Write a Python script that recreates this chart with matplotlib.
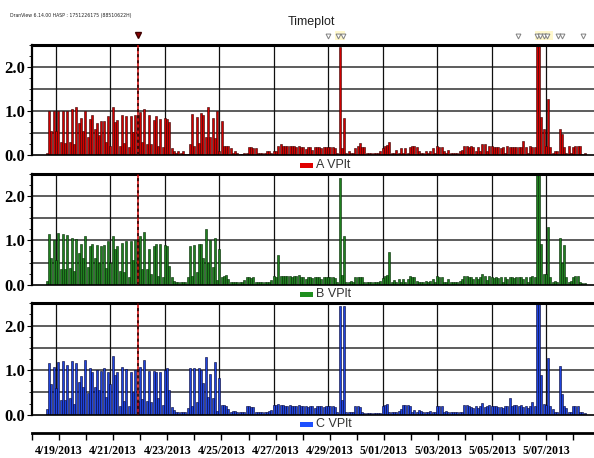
import matplotlib
matplotlib.use('Agg')
import matplotlib.pyplot as plt
import matplotlib.dates as mdates
from matplotlib.patches import Rectangle
from matplotlib.ticker import MultipleLocator, FixedLocator
import numpy as np
import pandas as pd
from datetime import datetime, timedelta

# ---------------- data ----------------
start_time = datetime(2013, 4, 18, 16, 0)
step_hours = 2

a_vplt = [
    0.05, 1.0, 0.55, 1.0, 0.55, 1.0, 0.3, 1.0, 0.28, 1.0,
    0.3, 1.05, 0.25, 1.08, 0.72, 0.85, 0.55, 1.0, 0.4, 0.82,
    0.92, 0.58, 0.72, 0.45, 0.78, 0.78, 0.3, 0.88, 0.2, 1.1,
    0.75, 0.8, 0.2, 0.9, 0.28, 0.88, 0.18, 0.88, 0.52, 0.9,
    0.92, 0.98, 0.3, 1.05, 0.25, 0.9, 0.25, 0.8, 0.88, 0.2,
    0.82, 0.18, 0.85, 0.82, 0.75, 0.15, 0.1, 0.05, 0.08, 0.05,
    0.08, 0.03, 0.02, 0.25, 0.93, 0.2, 0.86, 0.28, 0.95, 0.9,
    0.4, 1.08, 0.4, 0.85, 0.38, 1.0, 0.1, 0.78, 0.2, 0.2,
    0.2, 0.15, 0.05, 0.08, 0.05, 0.03, 0.03, 0.05, 0.05, 0.18,
    0.18, 0.17, 0.17, 0.05, 0.05, 0.05, 0.05, 0.08, 0.08, 0.05,
    0.08, 0.08, 0.2, 0.26, 0.2, 0.2, 0.2, 0.2, 0.2, 0.2,
    0.18, 0.2,
    0.18, 0.18, 0.14, 0.18, 0.18, 0.12, 0.18, 0.18, 0.18, 0.15,
    0.18, 0.18, 0.18, 0.18, 0.18, 0.15, 0.05, 2.45, 0.15, 0.85,
    0.05, 0.08, 0.05, 0.05, 0.15, 0.2, 0.27, 0.18, 0.18, 0.05,
    0.05, 0.05, 0.05, 0.05, 0.05, 0.08, 0.15, 0.2, 0.22, 0.3,
    0.05, 0.05, 0.12, 0.05, 0.15, 0.05, 0.15, 0.05, 0.18, 0.2,
    0.2, 0.18, 0.08, 0.05, 0.05, 0.08, 0.05, 0.08, 0.15, 0.05,
    0.2, 0.18, 0.18, 0.08, 0.05, 0.12, 0.05, 0.05, 0.05, 0.05,
    0.08, 0.12, 0.2, 0.2, 0.18, 0.2, 0.18, 0.1, 0.18, 0.1,
    0.25, 0.25, 0.08, 0.2, 0.2, 0.18, 0.18, 0.18, 0.15, 0.18,
    0.05, 0.2, 0.18, 0.18, 0.18, 0.18, 0.18, 0.18, 0.32, 0.18,
    0.05, 0.2, 0.18, 0.18, 2.6, 2.6, 0.87, 0.58, 0.2, 1.28,
    0.18, 0.05, 0.08, 0.08, 0.58, 0.48, 0.18, 0.05, 0.2, 0.05,
    0.18, 0.2, 0.2, 0.2, 0.03, 0.05,
]

b_vplt = [
    0.08, 1.15, 0.6, 1.0, 0.55, 1.17, 0.35, 1.15, 0.35, 1.12,
    0.38, 1.05, 0.3, 1.03, 0.72, 0.93, 0.6, 1.1, 0.4, 0.88,
    0.92, 0.6, 0.9, 0.5, 0.88, 0.9, 0.38, 0.98, 0.48, 1.1,
    0.8, 0.87, 0.3, 0.95, 0.28, 0.98, 0.18, 0.98, 0.55, 1.02,
    0.98, 1.1, 0.35, 1.2, 0.35, 0.8, 0.25, 0.88, 0.92, 0.2,
    0.92, 0.18, 0.9, 0.88, 0.42, 0.18, 0.08, 0.05, 0.05, 0.05,
    0.05, 0.05, 0.18, 0.88, 0.2, 0.9, 0.28, 0.92, 0.92, 0.6,
    1.25, 0.5, 1.0, 0.4, 1.05, 0.1, 0.8, 0.18, 0.2, 0.22,
    0.12, 0.05, 0.05, 0.05, 0.05, 0.05, 0.05, 0.1, 0.18, 0.18,
    0.15, 0.18, 0.05, 0.05, 0.05, 0.05, 0.05, 0.05, 0.05, 0.1,
    0.2, 0.18, 0.68, 0.2, 0.2, 0.2, 0.2, 0.2, 0.18, 0.2,
    0.2, 0.22,
    0.18, 0.18, 0.12, 0.18, 0.18, 0.15, 0.18, 0.18, 0.18, 0.12,
    0.18, 0.18, 0.18, 0.18, 0.18, 0.15, 0.05, 2.42, 0.22, 1.1,
    0.05, 0.05, 0.08, 0.05, 0.18, 0.18, 0.18, 0.18, 0.05, 0.05,
    0.05, 0.05, 0.05, 0.05, 0.05, 0.08, 0.15, 0.2, 0.22, 0.73,
    0.05, 0.1, 0.05, 0.12, 0.05, 0.12, 0.05, 0.12, 0.2, 0.18,
    0.18, 0.08, 0.05, 0.05, 0.05, 0.08, 0.05, 0.08, 0.12, 0.05,
    0.2, 0.18, 0.18, 0.05, 0.05, 0.12, 0.05, 0.05, 0.05, 0.05,
    0.08, 0.12, 0.2, 0.2, 0.18, 0.18, 0.12, 0.18, 0.12, 0.18,
    0.25, 0.2, 0.1, 0.2, 0.18, 0.15, 0.18, 0.15, 0.18, 0.05,
    0.18, 0.12, 0.18, 0.18, 0.15, 0.18, 0.18, 0.18, 0.12, 0.18,
    0.05, 0.18, 0.2, 0.18, 2.6, 2.6, 0.92, 0.25, 0.25, 1.3,
    0.18, 0.05, 0.08, 0.05, 1.05, 0.48, 0.9, 0.18, 0.05, 0.08,
    0.18, 0.2, 0.2, 0.05, 0.03, 0.03,
]

c_vplt = [
    0.12, 1.15, 0.68, 1.08, 0.6, 1.18, 0.33, 1.2, 0.33, 1.12,
    0.38, 1.2, 0.25, 1.16, 0.73, 0.87, 0.63, 1.22, 0.48, 1.05,
    0.95, 0.63, 1.0, 0.55, 0.98, 1.05, 0.4, 0.95, 0.7, 1.32,
    0.9, 0.95, 0.2, 1.08, 0.3, 1.03, 0.2, 0.95, 0.5, 1.0,
    0.3, 1.08, 0.35, 1.22, 0.3, 0.98, 0.28, 0.97, 0.95, 0.38,
    0.95, 0.22, 1.0, 1.05, 0.55, 0.18, 0.1, 0.05, 0.05, 0.05,
    0.05, 0.05, 0.15, 1.05, 0.2, 1.05, 0.28, 1.05, 1.0, 0.72,
    1.3, 0.4, 0.92, 0.38, 1.18, 0.08, 0.82, 0.22, 0.22, 0.2,
    0.12, 0.05, 0.08, 0.08, 0.05, 0.05, 0.05, 0.05, 0.2, 0.2,
    0.18, 0.18, 0.05, 0.05, 0.05, 0.05, 0.05, 0.05, 0.08, 0.1,
    0.22, 0.22, 0.25, 0.22, 0.22, 0.2, 0.2, 0.22, 0.2, 0.2,
    0.2, 0.22,
    0.2, 0.2, 0.2, 0.18, 0.2, 0.2, 0.15, 0.2, 0.2, 0.2,
    0.18, 0.2, 0.2, 0.2, 0.2, 0.18, 0.05, 2.45, 0.32, 2.45,
    0.05, 0.05, 0.05, 0.05, 0.2, 0.2, 0.18, 0.05, 0.03, 0.03,
    0.03, 0.03, 0.03, 0.03, 0.03, 0.03, 0.2, 0.22, 0.25, 0.05,
    0.05, 0.05, 0.05, 0.08, 0.12, 0.22, 0.22, 0.22, 0.2, 0.05,
    0.1, 0.05, 0.1, 0.08, 0.05, 0.05, 0.05, 0.08, 0.05, 0.05,
    0.2, 0.2, 0.2, 0.05, 0.08, 0.05, 0.05, 0.05, 0.05, 0.05,
    0.05, 0.05, 0.22, 0.22, 0.2, 0.18, 0.15, 0.2, 0.15, 0.2,
    0.27, 0.18, 0.2, 0.22, 0.2, 0.2, 0.2, 0.18, 0.18, 0.15,
    0.2, 0.2, 0.37, 0.2, 0.22, 0.22, 0.2, 0.22, 0.18, 0.2,
    0.15, 0.2, 0.28, 0.2, 2.6, 2.6, 0.88, 0.25, 0.22, 1.27,
    0.2, 0.12, 0.05, 0.05, 1.1, 0.47, 0.2, 0.15, 0.05, 0.05,
    0.2, 0.2, 0.2, 0.05, 0.05, 0.03,
]

series_names = ['A VPlt', 'B VPlt', 'C VPlt']
series_values = [a_vplt, b_vplt, c_vplt]
fill_colors = ['#d00000', '#1f801f', '#1f44dd']
edge_colors = ['#300000', '#002400', '#000030']
legend_colors = ['#e00000', '#1f8f1f', '#1e50ff']

event_time = datetime(2013, 4, 22, 0, 0)
alarm_times = [
    datetime(2013, 4, 29, 0, 0), datetime(2013, 4, 29, 9, 0),
    datetime(2013, 4, 29, 12, 45), datetime(2013, 5, 5, 23, 30),
    datetime(2013, 5, 6, 16, 30), datetime(2013, 5, 6, 19, 10),
    datetime(2013, 5, 6, 22, 15), datetime(2013, 5, 7, 1, 20),
    datetime(2013, 5, 7, 10, 50), datetime(2013, 5, 7, 14, 30),
    datetime(2013, 5, 8, 8, 40),
]
highlight_spans = [
    (datetime(2013, 4, 29, 6, 0), datetime(2013, 4, 29, 14, 50)),
    (datetime(2013, 5, 6, 14, 20), datetime(2013, 5, 7, 6, 10)),
]

ytick_values = [0, 1, 2]
ytick_labels = ['0.0', '1.0', '2.0']
label_dates = pd.date_range('2013-04-19', '2013-05-07', freq='2D')
day_ticks = pd.date_range('2013-04-18', '2013-05-08', freq='D')

header_text = 'DranView 6.14.00 HASP : 1751226175 (88510622H)'
title_text = 'Timeplot'

# ---------------- layout ----------------
W, H = 594, 458
fig = plt.figure(figsize=(W / 100, H / 100), dpi=100)
fig.patch.set_facecolor('white')

x_left_px, x_right_px = 32, 594
panels_px = [(45, 155), (174, 284.7), (303.3, 414.7)]
legend_y_px = [165, 294, 424]
xlim = (mdates.date2num(datetime(2013, 4, 18, 2, 50)),
        mdates.date2num(datetime(2013, 5, 8, 18, 22)))

serif = ['Liberation Serif', 'DejaVu Serif']
narrow = ['Liberation Sans Narrow', 'Liberation Sans', 'DejaVu Sans']

n = len(a_vplt)
times = [start_time + timedelta(hours=step_hours * i) for i in range(n)]
tnum = mdates.date2num(times)
bar_w = step_hours / 24 * 0.88

def fx(px):
    return px / W

def fy(px):
    return 1 - px / H

axes = []
for k, (top, bot) in enumerate(panels_px):
    ax = fig.add_axes([fx(x_left_px), fy(bot), fx(x_right_px - x_left_px), (bot - top) / H])
    axes.append(ax)
    ax.set_xlim(*xlim)
    ax.set_ylim(0, 2.5)
    for yv in [0.5, 1.0, 1.5, 2.0]:
        ax.axhline(yv, color='#303030', lw=1.1, zorder=1)
    for d in label_dates:
        ax.axvline(mdates.date2num(d), color='#101010', lw=0.9, zorder=1)
    ax.bar(tnum, series_values[k], width=bar_w, color=fill_colors[k],
           edgecolor=edge_colors[k], linewidth=0.4, zorder=2)
    ev = mdates.date2num(event_time)
    ax.axvline(ev, color='#d00000', lw=1.1, zorder=3)
    ax.axvline(ev, color='#200000', lw=1.1, ls=(0, (2, 2)), zorder=3)
    ax.spines['top'].set_linewidth(2.2)
    ax.spines['top'].set_color('black')
    ax.spines['right'].set_visible(False)
    ax.spines['bottom'].set_linewidth(1.2)
    ax.spines['left'].set_linewidth(1.6)
    ax.set_xticks([])
    ax.yaxis.set_major_locator(FixedLocator(ytick_values))
    ax.set_yticklabels(ytick_labels, fontfamily=serif, fontweight='bold', fontsize=12)
    ax.yaxis.set_minor_locator(MultipleLocator(0.25))
    ax.tick_params(axis='y', which='major', length=3.5, width=0.8, pad=1.5)
    ax.tick_params(axis='y', which='minor', length=2, width=0.6)
    ly = legend_y_px[k]
    fig.patches.append(Rectangle((fx(300), fy(ly + 2.5)), 13 / W, 5 / H,
                                 transform=fig.transFigure, facecolor=legend_colors[k],
                                 edgecolor='none'))
    fig.text(fx(316), fy(ly), series_names[k], fontsize=9, family=narrow,
             color='#333333', va='center', ha='left')

axA = axes[0]
trans_y = 2.5 + (45 - 36) / 44
for s, e in highlight_spans:
    axA.add_patch(Rectangle((mdates.date2num(s), 2.5 + 5 / 44),
                            mdates.date2num(e) - mdates.date2num(s), 9 / 44,
                            facecolor='#fff8cc', edgecolor='none', clip_on=False, zorder=0))
axA.plot(mdates.date2num(alarm_times), [trans_y] * len(alarm_times), ls='none',
         marker='v', ms=3.5, mfc='white', mec='#808080', mew=0.7, clip_on=False, zorder=5)
axA.plot([mdates.date2num(event_time)], [2.5 + 10 / 44], ls='none', marker='v', ms=4,
         mfc='#900000', mec='#400000', clip_on=False, zorder=5)

axX = fig.add_axes([fx(x_left_px), fy(433), fx(x_right_px - x_left_px), 0.001])
axX.set_xlim(*xlim)
axX.set_yticks([])
for sp in ['top', 'left', 'right']:
    axX.spines[sp].set_visible(False)
axX.spines['bottom'].set_linewidth(2.0)
axX.patch.set_visible(False)
axX.set_xticks(mdates.date2num(day_ticks.to_pydatetime()))
lab_set = set(d.date() for d in label_dates)
axX.set_xticklabels([f'{d.month}/{d.day:02d}/{d.year}' if d.date() in lab_set else ''
                     for d in day_ticks])
for t in axX.get_xticklabels():
    t.set_fontfamily(serif)
    t.set_fontweight('bold')
    t.set_fontsize(8.5)
axX.tick_params(axis='x', length=5, width=1.0, pad=4, direction='out')

fig.text(fx(10), fy(15), header_text, fontsize=3.3, family='DejaVu Sans', color='#222222',
         va='center', ha='left')
fig.text(fx(311), fy(22), title_text, fontsize=9, family=narrow, color='#222222',
         va='center', ha='center')

fig.savefig('out.png', dpi=100, facecolor='white')
